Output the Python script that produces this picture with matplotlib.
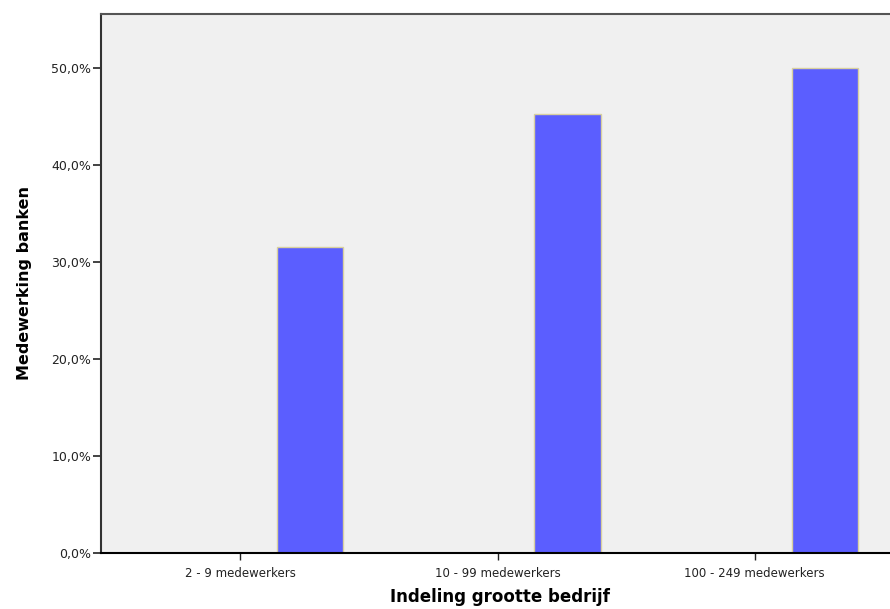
import matplotlib.pyplot as plt
import numpy as np

categorieen = ['2 - 9 medewerkers', '10 - 99 medewerkers', '100 - 249 medewerkers']
percentages = [31.6, 45.3, 50.0]
yticks = [0, 10, 20, 30, 40, 50]
ytick_labels = ['0,0%', '10,0%', '20,0%', '30,0%', '40,0%', '50,0%']

fig = plt.figure(figsize=(8.9, 6.09), dpi=100)
ax = fig.add_axes([101/890, 1 - 553/609, 1 - 101/890 + 0.01, (553 - 14)/609])
ax.set_facecolor('#f0f0f0')

x = np.arange(len(categorieen))
# SPSS zet de balk rechts van de tick (geclusterd, eerste cluster leeg)
ax.bar(x + 0.272, percentages, width=0.257, color='#5b5eff',
       edgecolor='#d8d0a0', linewidth=1.0, zorder=2)

ax.set_xlim(-0.541, 2.56)
ax.set_ylim(0, 55.6)
ax.set_xticks(x)
ax.set_xticklabels(categorieen, fontsize=8.5, color='#222222')
ax.set_yticks(yticks)
ax.set_yticklabels(ytick_labels, fontsize=9, color='#222222')
ax.tick_params(axis='y', length=6, width=1.2, color='#222222', pad=1)
ax.tick_params(axis='x', length=5, width=1.0, color='#222222', pad=5)

ax.spines['right'].set_visible(False)
ax.spines['top'].set_color('#555555')
ax.spines['top'].set_linewidth(1.5)
ax.spines['left'].set_color('#333333')
ax.spines['left'].set_linewidth(1.5)
ax.spines['bottom'].set_color('#000000')
ax.spines['bottom'].set_linewidth(1.5)

ax.set_xlabel('Indeling grootte bedrijf', fontsize=12, fontweight='bold', labelpad=6)
ax.set_ylabel('Medewerking banken', fontsize=11.5, fontweight='bold', labelpad=14)

fig.savefig('out.png', dpi=100)
